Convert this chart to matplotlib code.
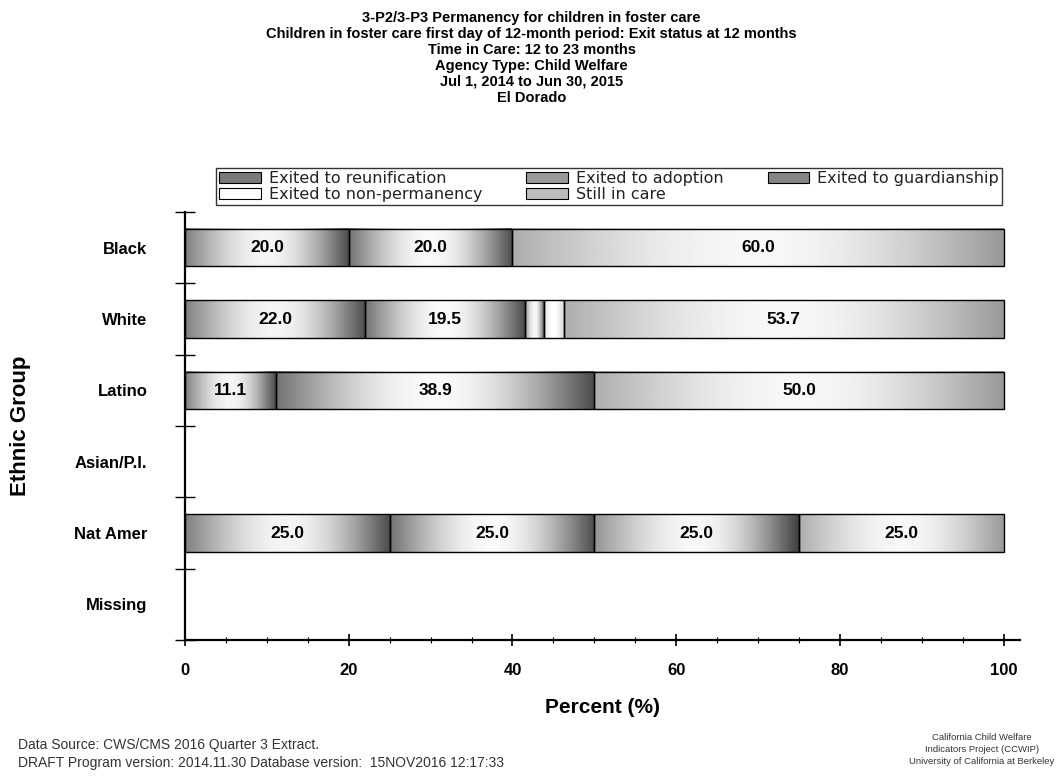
import numpy as np
import matplotlib
matplotlib.use("Agg")
import matplotlib.pyplot as plt
from matplotlib import font_manager
from matplotlib.patches import Patch
from matplotlib.ticker import MultipleLocator

# ---------------- data ----------------
categories = ["Black", "White", "Latino", "Asian/P.I.", "Nat Amer", "Missing"]
series_names = ["Exited to reunification", "Exited to adoption", "Exited to guardianship",
                "Exited to non-permanency", "Still in care"]
reunification = [20.0, 22.0, 11.1, 0.0, 25.0, 0.0]
adoption = [20.0, 19.5, 38.9, 0.0, 25.0, 0.0]
guardianship = [0.0, 2.4, 0.0, 0.0, 25.0, 0.0]
non_permanency = [0.0, 2.4, 0.0, 0.0, 0.0, 0.0]
still_in_care = [60.0, 53.7, 50.0, 0.0, 25.0, 0.0]
x_ticks = [0, 20, 40, 60, 80, 100]

title_lines = [
    "3-P2/3-P3 Permanency for children in foster care",
    "Children in foster care first day of 12-month period: Exit status at 12 months",
    "Time in Care: 12 to 23 months",
    "Agency Type: Child Welfare",
    "Jul 1, 2014 to Jun 30, 2015",
    "El Dorado",
]
footer_left = ["Data Source: CWS/CMS 2016 Quarter 3 Extract.",
               "DRAFT Program version: 2014.11.30 Database version:  15NOV2016 12:17:33"]
footer_right = ["California Child Welfare", "Indicators Project (CCWIP)",
                "University of California at Berkeley"]

# ---------------- style ----------------
def have(name):
    try:
        font_manager.findfont(name, fallback_to_default=False)
        return True
    except Exception:
        return False

base_font = "Liberation Sans" if have("Liberation Sans") else "DejaVu Sans"
narrow_font = "Liberation Sans Narrow" if have("Liberation Sans Narrow") else base_font
plt.rcParams["font.family"] = [base_font, "DejaVu Sans"]

# gradient shading (left edge, centre, right edge grey levels) per series
shades = [(0.50, 0.96, 0.30),
          (0.45, 0.98, 0.30),
          (0.58, 0.97, 0.25),
          (0.88, 1.00, 0.82),
          (0.68, 0.97, 0.60)]
legend_faces = ["#7a7a7a", "#9a9a9a", "#858585", "#ffffff", "#bdbdbd"]

def gradient(L, C, R, n=256, peak=0.5):
    t = np.linspace(0, 1, n)
    v = np.where(t <= peak,
                 L + (C - L) * np.sin(np.pi / 2 * t / peak),
                 R + (C - R) * np.sin(np.pi / 2 * (1 - t) / (1 - peak)))
    return v[None, :]

W, H = 1063, 778
fig = plt.figure(figsize=(W / 100, H / 100), dpi=100)
ax = fig.add_axes([185 / W, 1 - 640 / H, (1020 - 185) / W, (640 - 212) / H])

series = [reunification, adoption, guardianship, non_permanency, still_in_care]
ypos = np.arange(len(categories))
bar_h = 0.52
left = np.zeros(len(categories))
for vals, (L, C, R) in zip(series, shades):
    vals = np.asarray(vals, dtype=float)
    bars = ax.barh(ypos, vals, left=left, height=bar_h, facecolor="none",
                   edgecolor="black", linewidth=1.0, zorder=3)
    for rect, v in zip(bars.patches, vals):
        if v <= 0:
            rect.set_visible(False)
            continue
        x0, y0 = rect.get_x(), rect.get_y()
        ax.imshow(gradient(L, C, R), cmap="gray", vmin=0, vmax=1, aspect="auto",
                  interpolation="bilinear",
                  extent=[x0, x0 + rect.get_width(), y0, y0 + rect.get_height()],
                  zorder=2)
    ax.bar_label(bars, labels=[f"{v:.1f}" if v >= 5 else "" for v in vals],
                 label_type="center", fontsize=12.5, fontweight="bold", zorder=4)
    left = left + vals

ax.set_xlim(0, 102)
ax.set_ylim(len(categories) - 0.5, -0.5)

for s in ["top", "right"]:
    ax.spines[s].set_visible(False)
for s in ["left", "bottom"]:
    ax.spines[s].set_linewidth(1.6)

ax.set_xticks(x_ticks, labels=[str(t) for t in x_ticks], fontweight="bold", fontsize=12)
ax.xaxis.set_minor_locator(MultipleLocator(5))
ax.tick_params(axis="x", which="major", direction="inout", length=9, width=1.2, pad=12)
ax.tick_params(axis="x", which="minor", direction="inout", length=5, width=0.8)

ax.set_yticks(np.arange(-0.5, len(categories), 1.0))
ax.set_yticklabels([])
ax.set_yticks(ypos, labels=categories, minor=True, fontweight="bold", fontsize=12)
ax.tick_params(axis="y", which="major", direction="inout", length=14, width=1.0)
ax.tick_params(axis="y", which="minor", length=0, pad=27)

ax.set_xlabel("Percent (%)", fontsize=15, fontweight="bold")
ax.xaxis.set_label_coords(0.5, -0.135)
ax.set_ylabel("Ethnic Group", fontsize=16, fontweight="bold")
ax.yaxis.set_label_coords(-0.185, 0.5)

# legend (row-major order in three columns)
handles = [Patch(facecolor=fc, edgecolor="black", linewidth=0.8) for fc in legend_faces]
order = [0, 3, 1, 4, 2]
leg = fig.legend([handles[i] for i in order], [series_names[i] for i in order],
                 ncol=3, mode="expand",
                 bbox_to_anchor=(216 / W, 1 - 205 / H, (1002 - 216) / W, 40 / H),
                 loc="lower left", frameon=True, fancybox=False,
                 prop={"family": ["DejaVu Sans"], "size": 11.5},
                 edgecolor="black", borderpad=0.2, labelspacing=0.05,
                 handlelength=2.6, handleheight=0.65, handletextpad=0.5,
                 borderaxespad=0)
leg.get_frame().set_linewidth(1.0)
for t in leg.get_texts():
    t.set_color("#222222")

# title
for i, line in enumerate(title_lines):
    fig.text(0.5, 1 - (18 + 16 * i) / H, line, ha="center", va="center",
             fontsize=10.5, fontweight="bold", family=[narrow_font, "DejaVu Sans"])

# footer
for i, line in enumerate(footer_left):
    fig.text(18 / W, 1 - (745 + 18 * i) / H, line, ha="left", va="center",
             fontsize=10, color="#333333")
for i, line in enumerate(footer_right):
    fig.text(982 / W, 1 - (738 + 12 * i) / H, line, ha="center", va="center",
             fontsize=6.8, color="#333333")

fig.savefig("out.png", dpi=100)
